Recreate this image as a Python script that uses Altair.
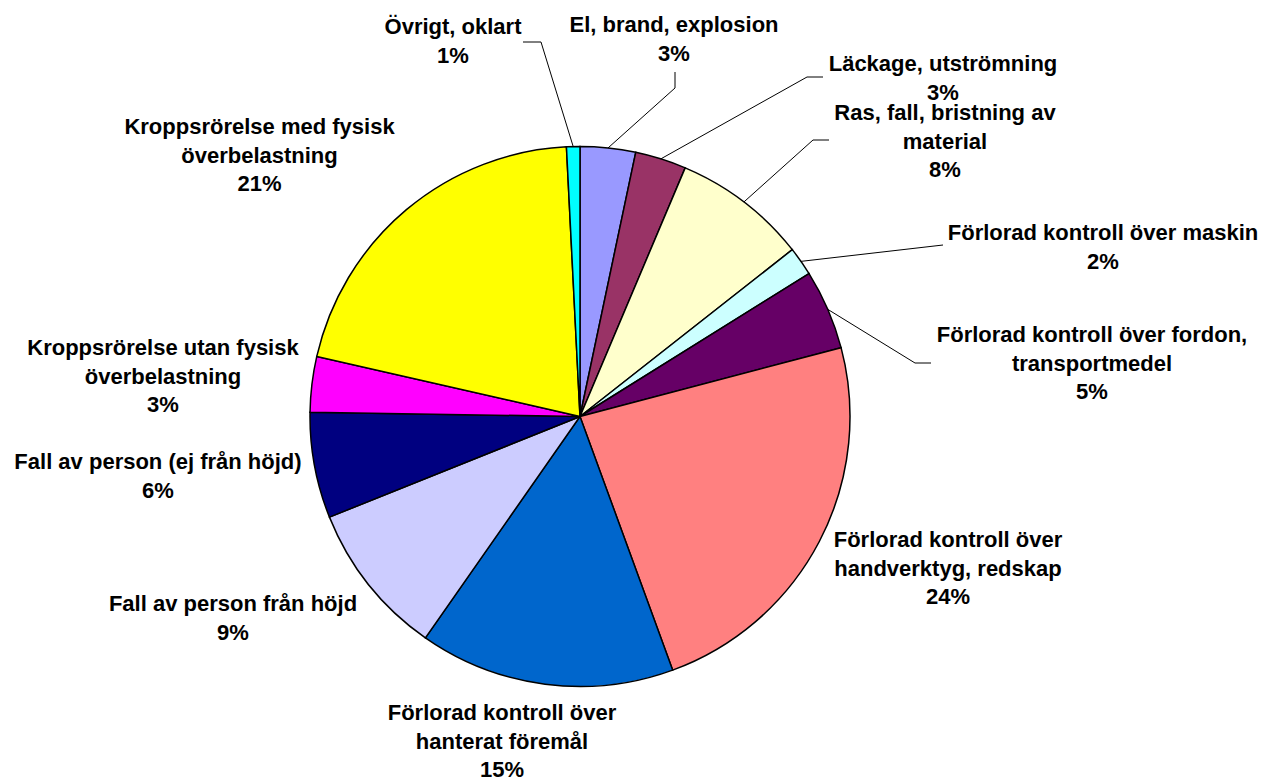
import math
import altair as alt
import pandas as pd

# ---- data (clockwise from 12 o'clock) ----
categories = [
    "El, brand, explosion",
    "Läckage, utströmning",
    "Ras, fall, bristning av material",
    "Förlorad kontroll över maskin",
    "Förlorad kontroll över fordon, transportmedel",
    "Förlorad kontroll över handverktyg, redskap",
    "Förlorad kontroll över hanterat föremål",
    "Fall av person från höjd",
    "Fall av person (ej från höjd)",
    "Kroppsrörelse utan fysisk överbelastning",
    "Kroppsrörelse med fysisk överbelastning",
    "Övrigt, oklart",
]
values = [3.31, 3.06, 8.03, 1.72, 4.78, 23.53, 15.28, 9.22, 6.33, 3.32, 20.63, 0.80]
colors = ["#9999FF", "#993366", "#FFFFCC", "#CCFFFF", "#660066", "#FF8080",
          "#0066CC", "#CCCCFF", "#000080", "#FF00FF", "#FFFF00", "#00FFFF"]

# wrapped label text (first lines) as shown in the chart
label_names = [
    "El, brand, explosion",
    "Läckage, utströmning",
    "Ras, fall, bristning av\nmaterial",
    "Förlorad kontroll över maskin",
    "Förlorad kontroll över fordon,\ntransportmedel",
    "Förlorad kontroll över\nhandverktyg, redskap",
    "Förlorad kontroll över\nhanterat föremål",
    "Fall av person från höjd",
    "Fall av person (ej från höjd)",
    "Kroppsrörelse utan fysisk\növerbelastning",
    "Kroppsrörelse med fysisk\növerbelastning",
    "Övrigt, oklart",
]

# ---- layout (chart pixel coordinates) ----
OFF = 8
CX, CY, R = 580 - OFF, 416.5 - OFF, 270
label_pos = [  # (center x, first baseline y) in page coords
    (674, 32), (943, 71), (945, 120), (1103, 240), (1092, 342), (948, 547),
    (502, 720), (233, 611), (158, 469), (163, 355), (259.5, 134), (453, 34),
]
# leader line bends (page coords) for labels that have one; final point is the pie edge
leader_pts = {
    0: [(675, 72), (675, 88)],
    1: [(823, 77), (807, 77)],
    2: [(829, 140), (813, 140)],
    3: [(943, 245)],
    4: [(931, 363), (915, 363)],
    11: [(523, 42), (541, 42)],
}

total = sum(values)
pcts = [f"{round(v / total * 100)}%" for v in values]

df = pd.DataFrame({
    "idx": list(range(len(categories))),
    "cat": categories,
    "value": values,
})

lab = pd.DataFrame({
    "label": [n + "\n" + p for n, p in zip(label_names, pcts)],
    "lx": [p[0] - OFF for p in label_pos],
    "ly": [p[1] - OFF for p in label_pos],
})

# leader segments ending at the pie edge, at each slice's mid angle
cum = 0.0
mids = []
for v in values:
    mids.append((cum + v / 2) / total * 2 * math.pi)
    cum += v
segs = []
for i, pts in leader_pts.items():
    a = mids[i]
    edge = (CX + R * math.sin(a), CY - R * math.cos(a))
    chain = [(x - OFF, y - OFF) for x, y in pts] + [edge]
    for (x1, y1), (x2, y2) in zip(chain[:-1], chain[1:]):
        segs.append({"x": x1, "y": y1, "x2": x2, "y2": y2})
segdf = pd.DataFrame(segs)

pie = alt.Chart(df).mark_arc(radius=R, stroke="black", strokeWidth=1.5).encode(
    theta=alt.Theta("value:Q", stack=True),
    color=alt.Color("cat:N", scale=alt.Scale(domain=categories, range=colors), legend=None),
    order=alt.Order("idx:Q"),
    x=alt.value(CX),
    y=alt.value(CY),
)

leaders = alt.Chart(segdf).mark_rule(color="black", strokeWidth=1).encode(
    x=alt.X("x:Q", scale=None, axis=None),
    y=alt.Y("y:Q", scale=None, axis=None),
    x2="x2:Q",
    y2="y2:Q",
)

texts = alt.Chart(lab).mark_text(
    align="center", baseline="alphabetic", lineBreak="\n", lineHeight=28.5,
    font="Liberation Sans", fontSize=22, fontWeight="bold", color="black",
).encode(
    x=alt.X("lx:Q", scale=None, axis=None),
    y=alt.Y("ly:Q", scale=None, axis=None),
    text="label:N",
)

chart = alt.layer(pie, leaders, texts).properties(
    width=1252, height=762, padding=0, background="white"
).configure_view(stroke=None)

chart.save("out.html", embed_options={"renderer": "svg", "actions": False})
